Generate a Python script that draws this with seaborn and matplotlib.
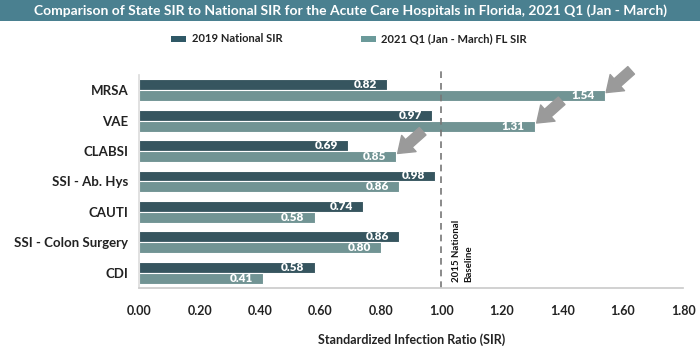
import matplotlib
matplotlib.use("Agg")
import matplotlib.pyplot as plt
import seaborn as sns
import pandas as pd
from matplotlib.patches import Rectangle

categories = ["MRSA", "VAE", "CLABSI", "SSI - Ab. Hys", "CAUTI", "SSI - Colon Surgery", "CDI"]
national_2019 = [0.82, 0.97, 0.69, 0.98, 0.74, 0.86, 0.58]
fl_2021q1 = [1.54, 1.31, 0.85, 0.86, 0.58, 0.80, 0.41]
series_names = ["2019 National SIR", "2021 Q1 (Jan - March) FL SIR"]
arrow_cats = ["MRSA", "VAE", "CLABSI"]
xticks = [0.0, 0.2, 0.4, 0.6, 0.8, 1.0, 1.2, 1.4, 1.6, 1.8]

df = pd.DataFrame({
    "cat": categories * 2,
    "val": national_2019 + fl_2021q1,
    "series": [series_names[0]] * len(categories) + [series_names[1]] * len(categories),
})

sns.set_theme(style="white")
plt.rcParams["font.family"] = ["Lato", "DejaVu Sans"]

c_dark = "#2f5866"
c_light = "#6b9a9a"

fig = plt.figure(figsize=(7, 3.5), dpi=100)
ax = fig.add_axes([0.199, 0.177, 0.777, 0.609])

sns.barplot(data=df, y="cat", x="val", hue="series", orient="h", ax=ax,
            palette=[c_dark, c_light], width=0.72, edgecolor="white", linewidth=0.8,
            legend=False)

for cont in ax.containers:
    ax.bar_label(cont, fmt="%.2f", padding=-24, color="white", fontsize=8.5, fontweight="heavy")

ax.set_xlim(0, 1.8)
ax.set_ylim(6.5, -0.5)
ax.set_xticks(xticks)
ax.set_xticklabels([f"{t:.2f}" for t in xticks], fontsize=9, fontweight="bold", color="#222222")
ax.set_yticks(range(len(categories)))
ax.set_yticklabels(categories, fontsize=9.5, fontweight="bold", color="#222222")
ax.set_ylabel("")
ax.set_xlabel("Standardized Infection Ratio (SIR)", fontsize=9, fontweight="bold", color="#222222", labelpad=12)
ax.tick_params(axis="x", length=4, color="#cccccc", pad=8)
ax.tick_params(axis="y", length=0, pad=8)
for s in ["top", "right"]:
    ax.spines[s].set_visible(False)
ax.spines["left"].set_color("#dddddd")
ax.spines["bottom"].set_color("#cccccc")

# baseline
ax.axvline(1.0, ymin=0, ymax=1.02, color="#777777", linestyle=(0, (4, 3)), linewidth=1.2, clip_on=False)
ax.text(1.035, 6.3, "2015 National\nBaseline", rotation=90, fontsize=7, fontweight="bold",
        ha="left", va="bottom", color="#111111", linespacing=1.4)

# arrows
fl_bars = ax.containers[1]
for cat in arrow_cats:
    i = categories.index(cat)
    bar = fl_bars[i]
    xe = bar.get_x() + bar.get_width()
    yc = bar.get_y() + bar.get_height() / 2
    ax.annotate("", xy=(xe + 0.005, yc - 0.1), xytext=(18, 16), textcoords="offset points",
                arrowprops=dict(arrowstyle="simple,head_length=0.9,head_width=1.3,tail_width=0.6",
                                color="#9a9a9a", shrinkA=0, shrinkB=0))

# title banner
fig.patches.append(Rectangle((0, 1 - 21 / 350), 1, 21 / 350, transform=fig.transFigure,
                             facecolor="#4a8090", edgecolor="none"))
fig.text(0.5, 1 - 10.5 / 350, "Comparison of State SIR to National SIR for the Acute Care Hospitals in Florida, 2021 Q1 (Jan - March)",
         ha="center", va="center", color="white", fontsize=10, fontweight="bold")

# legend
fig.patches.append(Rectangle((171 / 700, 1 - 42 / 350), 15 / 700, 6 / 350, transform=fig.transFigure,
                             facecolor=c_dark, edgecolor="none"))
fig.text(192 / 700, 1 - 39 / 350, series_names[0], ha="left", va="center", fontsize=8, fontweight="bold", color="#222222")
fig.patches.append(Rectangle((361 / 700, 1 - 42 / 350), 15 / 700, 6 / 350, transform=fig.transFigure,
                             facecolor=c_light, edgecolor="none"))
fig.text(381 / 700, 1 - 39 / 350, series_names[1], ha="left", va="center", fontsize=8, fontweight="bold", color="#222222")

fig.savefig("out.png", dpi=100)
